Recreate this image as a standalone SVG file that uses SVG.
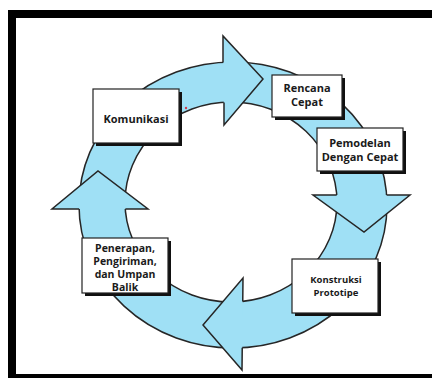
<svg xmlns="http://www.w3.org/2000/svg" width="432" height="378" viewBox="0 0 432 378">
<style>
.ring{fill:#9fe0f5;stroke:#262626;stroke-width:1.5;fill-rule:evenodd}
.head{fill:#9fe0f5;stroke:none}
.edge{fill:none;stroke:#262626;stroke-width:1.5;stroke-linejoin:miter}
.shadow{fill:#111}
.box{fill:#fff;stroke:#222;stroke-width:1.2}
.t{font-family:"Open Sans","Noto Sans",sans-serif;font-weight:bold;fill:#1a1a1a;text-anchor:middle}
</style>
<rect x="0" y="0" width="432" height="378" fill="#fff"/>
<rect x="12" y="14" width="428" height="364" fill="none" stroke="#000" stroke-width="8"/>
<g id="connectors">
<path class="ring" d="M79,205 A154,143 0 1,0 387,205 A154,143 0 1,0 79,205 Z M125,202 A106,100 0 1,0 337,202 A106,100 0 1,0 125,202 Z"/>
<g id="arrow-top">
<polygon class="head" points="223,36 263,79 224,125"/>
<polyline class="edge" points="223,62.3 223,36 263,79 224,125 224,102.5"/>
</g>
<g id="arrow-right">
<polygon class="head" points="313,195 410,195 364,232"/>
<polyline class="edge" points="386.6,195 410,195 364,232 313,195 336.7,195"/>
</g>
<g id="arrow-bottom">
<polygon class="head" points="243,278 203,325 242,370"/>
<polyline class="edge" points="242.75,301.4 243,278 203,325 242,370 242.24,347.7"/>
</g>
<g id="arrow-left">
<polygon class="head" points="52,209 98,171 148,209"/>
<polyline class="edge" points="79.1,209 52,209 98,171 148,209 125.4,209"/>
</g>
<circle cx="186" cy="108" r="1.2" fill="#d23a4a"/>
</g>
<g id="node-komunikasi">
<rect class="shadow" x="96" y="92" width="86" height="54"/>
<rect class="box" x="93" y="89" width="86" height="54"/>
<text class="t" x="136" y="123" font-size="11">Komunikasi</text>
</g>
<g id="node-rencana">
<rect class="shadow" x="275" y="78" width="70" height="42"/>
<rect class="box" x="272" y="75" width="70" height="42"/>
<text class="t" x="307" y="92" font-size="11">Rencana</text>
<text class="t" x="307" y="106" font-size="11">Cepat</text>
</g>
<g id="node-pemodelan">
<rect class="shadow" x="320" y="131" width="86" height="43"/>
<rect class="box" x="317" y="128" width="86" height="43"/>
<text class="t" x="360" y="147" font-size="11">Pemodelan</text>
<text class="t" x="360" y="161" font-size="11">Dengan Cepat</text>
</g>
<g id="node-konstruksi">
<rect class="shadow" x="295" y="262" width="86" height="54"/>
<rect class="box" x="292" y="259" width="86" height="54"/>
<text class="t" x="336" y="283" font-size="9.5">Konstruksi</text>
<text class="t" x="336" y="296" font-size="9.5">Prototipe</text>
</g>
<g id="node-penerapan">
<rect class="shadow" x="85" y="241" width="86" height="55"/>
<rect class="box" x="82" y="238" width="86" height="55"/>
<text class="t" x="125" y="252" font-size="10.5">Penerapan,</text>
<text class="t" x="125" y="265" font-size="10.5">Pengiriman,</text>
<text class="t" x="125" y="278" font-size="10.5">dan Umpan</text>
<text class="t" x="125" y="291" font-size="10.5">Balik</text>
</g>
</svg>
